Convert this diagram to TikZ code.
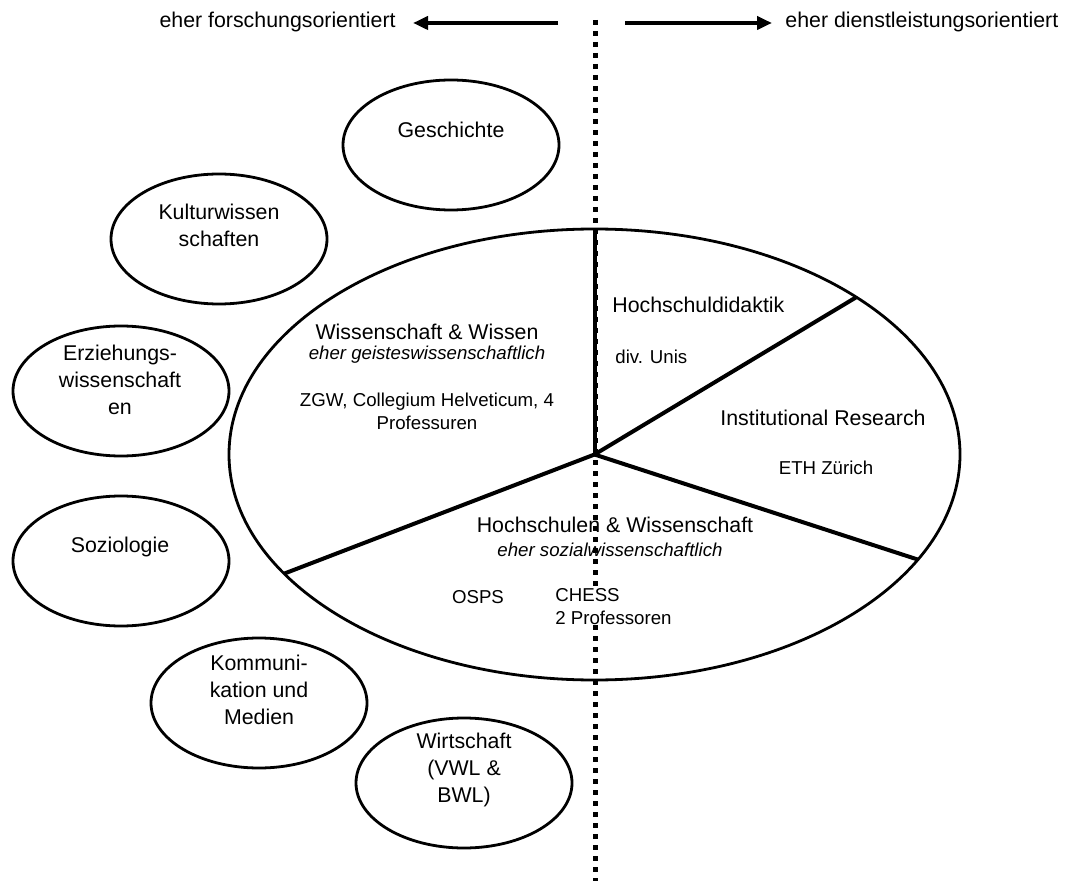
\documentclass[tikz,border=0pt]{standalone}
\usepackage{fontspec}
\setmainfont{Liberation Sans}
\usetikzlibrary{shapes.geometric, arrows.meta}

\begin{document}
\begin{tikzpicture}[x=0.5pt, y=-0.5pt,
  blob/.style={draw, ellipse, line width=1.4pt, minimum width=108pt, minimum height=65pt, inner sep=0pt, outer sep=0pt},
  big/.style={font=\fontsize{10.67}{13.5}\selectfont, align=center, inner sep=0pt},
  small/.style={font=\fontsize{9.33}{11.5}\selectfont, align=center, inner sep=0pt},
  arr/.style={line width=2pt, -{Triangle[length=7.5pt,width=6.5pt]}},
  dots/.style={line width=2.5pt, dash pattern=on 2.5pt off 3pt}]
\useasboundingbox (0,0) rectangle (1085,881);

% top axis
\node[big, anchor=east] (forsch) at (396,22) {eher forschungsorientiert};
\node[big, anchor=west] (dienst) at (785,22) {eher dienstleistungsorientiert};
\coordinate (la) at (558,23);
\coordinate (ra) at (625,23);
\draw[arr, shorten >=8.5pt] (la) -- (forsch.east |- la);
\draw[arr, shorten >=6.5pt] (ra) -- (dienst.west |- ra);

\coordinate (dtop) at (595,20);
\coordinate (dbot) at (595,881);
\draw[dots] (dtop) -- (dbot);

% pie
\node[draw, ellipse, line width=1.4pt, minimum width=365.5pt, minimum height=225.5pt, inner sep=0pt, outer sep=0pt] (pie) at (594.5,454.5) {};
\draw[line width=2pt] (pie.center) -- (pie.north);
\draw[line width=2pt] (pie.center) -- (pie.31.2);
\draw[line width=2pt] (pie.center) -- (pie.-18.7);
\draw[line width=2pt] (pie.center) -- (pie.201.35);

\node[big] (wwT) at (427,332) {Wissenschaft \& Wissen};
\node[small, font=\fontsize{9.33}{11.5}\selectfont\itshape] (wwS) at (427,355) {eher geisteswissenschaftlich};
\node[small] (wwD) at (427,411) {ZGW, Collegium Helveticum, 4\\Professuren};

\node[big, anchor=west] (hdT) at (612,305) {Hochschuldidaktik};
\node[small, anchor=west] (hdD) at (615,357) {div. Unis};

\node[big, anchor=west] (irT) at (720,418) {Institutional Research};
\node[small] (irD) at (826,468) {ETH Zürich};

\node[big] (hwT) at (615,525) {Hochschulen \& Wissenschaft};
\node[small, font=\fontsize{9.33}{11.5}\selectfont\itshape] (hwS) at (610,550) {eher sozialwissenschaftlich};
\node[small] (osps) at (478,597) {OSPS};
\node[small, align=left, anchor=west, fill=white] (chess) at (555,607) {CHESS\\2 Professoren};

% disciplines
\node[blob] (gesch) at (451,145) {};
\node[big] (geschT) at (451,130) {Geschichte};
\node[blob] (kult) at (219,239) {};
\node[big] (kultT) at (219,225) {Kulturwissen\\schaften};
\node[blob] (erz) at (121,391) {};
\node[big] (erzT) at (120,380) {Erziehungs-\\wissenschaft\\en};
\node[blob] (soz) at (121,561) {};
\node[big] (sozT) at (120,547) {Soziologie};
\node[blob] (komm) at (259,703) {};
\node[big] (kommT) at (259,690) {Kommuni-\\kation und\\Medien};
\node[blob] (wirt) at (464,783) {};
\node[big] (wirtT) at (464,770) {Wirtschaft\\(VWL \&\\BWL)};
\end{tikzpicture}
\end{document}
